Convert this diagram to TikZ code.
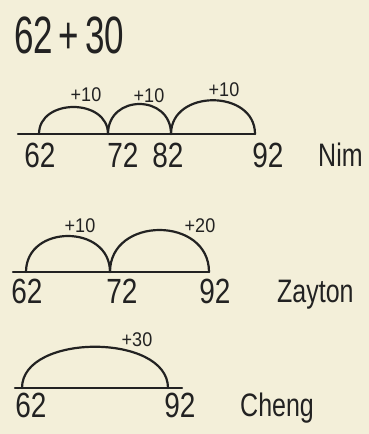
\documentclass[tikz,border=0pt]{standalone}
\usepackage{fontspec}
\setmainfont{Liberation Sans}
\usepackage{graphicx}
\usepackage{tikz}
\usetikzlibrary{positioning,calc}
\definecolor{paper}{HTML}{F3EFD9}
\definecolor{ink}{HTML}{222222}
\newcommand{\tall}[2]{\scalebox{1}[#1]{#2}}
\tikzset{
  numline/.style={draw=ink,line width=2.2pt,line cap=round},
  jump/.style={draw=ink,line width=2.2pt,line cap=round},
  sumlab/.style={text=ink,anchor=base west,inner sep=0pt,font=\fontsize{35}{35}\selectfont},
  numlab/.style={text=ink,anchor=base,inner sep=0pt,font=\fontsize{28}{28}\selectfont},
  jumplab/.style={text=ink,anchor=base,inner sep=0pt,font=\fontsize{18}{18}\selectfont},
  kidlab/.style={text=ink,anchor=base west,inner sep=0pt,font=\fontsize{25}{25}\selectfont}
}

\begin{document}
\begin{tikzpicture}[x=1pt,y=-1pt]
  \fill[paper] (0,0) rectangle (369,434);
  \useasboundingbox (0,0) rectangle (369,434);
  \node[sumlab] (sum) at (14,53) {\tall{1.5}{62\,+\,30}};

  % Nim: three jumps of ten
  \coordinate (nimL) at (18,134);
  \foreach \i/\x in {1/39,2/108,3/171,4/255}
    \coordinate (nim\i) at (\x,134);
  \draw[numline] (nimL) -- (nim4);
  \foreach \s/\t/\h/\lx/\ly in {1/2/36/86/101, 2/3/40/149/102, 3/4/45/224/96}{
    \draw[jump] (nim\s) .. controls +(0,-\h) and +(0,-\h) .. (nim\t);
    \node[jumplab] (nimj\s) at (\lx,\ly) {\tall{1.1}{+10}};
  }
  \foreach \lab/\x in {62/40,72/123,82/168,92/268}
    \node[numlab] (nimn\lab) at (\x,167) {\tall{1.25}{\lab}};
  \node[kidlab] (nim) at (318,166) {\tall{1.3}{Nim}};

  % Zayton: ten, then twenty
  \coordinate (zayL) at (13,272);
  \foreach \i/\x in {1/26,2/110,3/209}
    \coordinate (zay\i) at (\x,272);
  \draw[numline] (zayL) -- (zay3);
  \foreach \s/\t/\h/\lab/\lx/\ly in {1/2/48/{+10}/80/232, 2/3/56/{+20}/200/232}{
    \draw[jump] (zay\s) .. controls +(0,-\h) and +(0,-\h) .. (zay\t);
    \node[jumplab] (zayj\s) at (\lx,\ly) {\tall{1.1}{\lab}};
  }
  \foreach \lab/\x in {62/27,72/122,92/215}
    \node[numlab] (zayn\lab) at (\x,303) {\tall{1.25}{\lab}};
  \node[kidlab] (zayton) at (277,302) {\tall{1.3}{Zayton}};

  % Cheng: one jump of thirty
  \coordinate (chgL) at (15,388);
  \coordinate (chgR) at (182,388);
  \coordinate (chg1) at (22,388);
  \coordinate (chg2) at (168,388);
  \draw[numline] (chgL) -- (chgR);
  \draw[jump] (chg1) .. controls +(0,-55) and +(0,-55) .. (chg2);
  \node[jumplab] (chgj) at (137,346) {\tall{1.1}{+30}};
  \foreach \lab/\x in {62/31,92/180}
    \node[numlab] (chgn\lab) at (\x,417) {\tall{1.25}{\lab}};
  \node[kidlab] (cheng) at (240,416) {\tall{1.3}{Cheng}};
\end{tikzpicture}
\end{document}
